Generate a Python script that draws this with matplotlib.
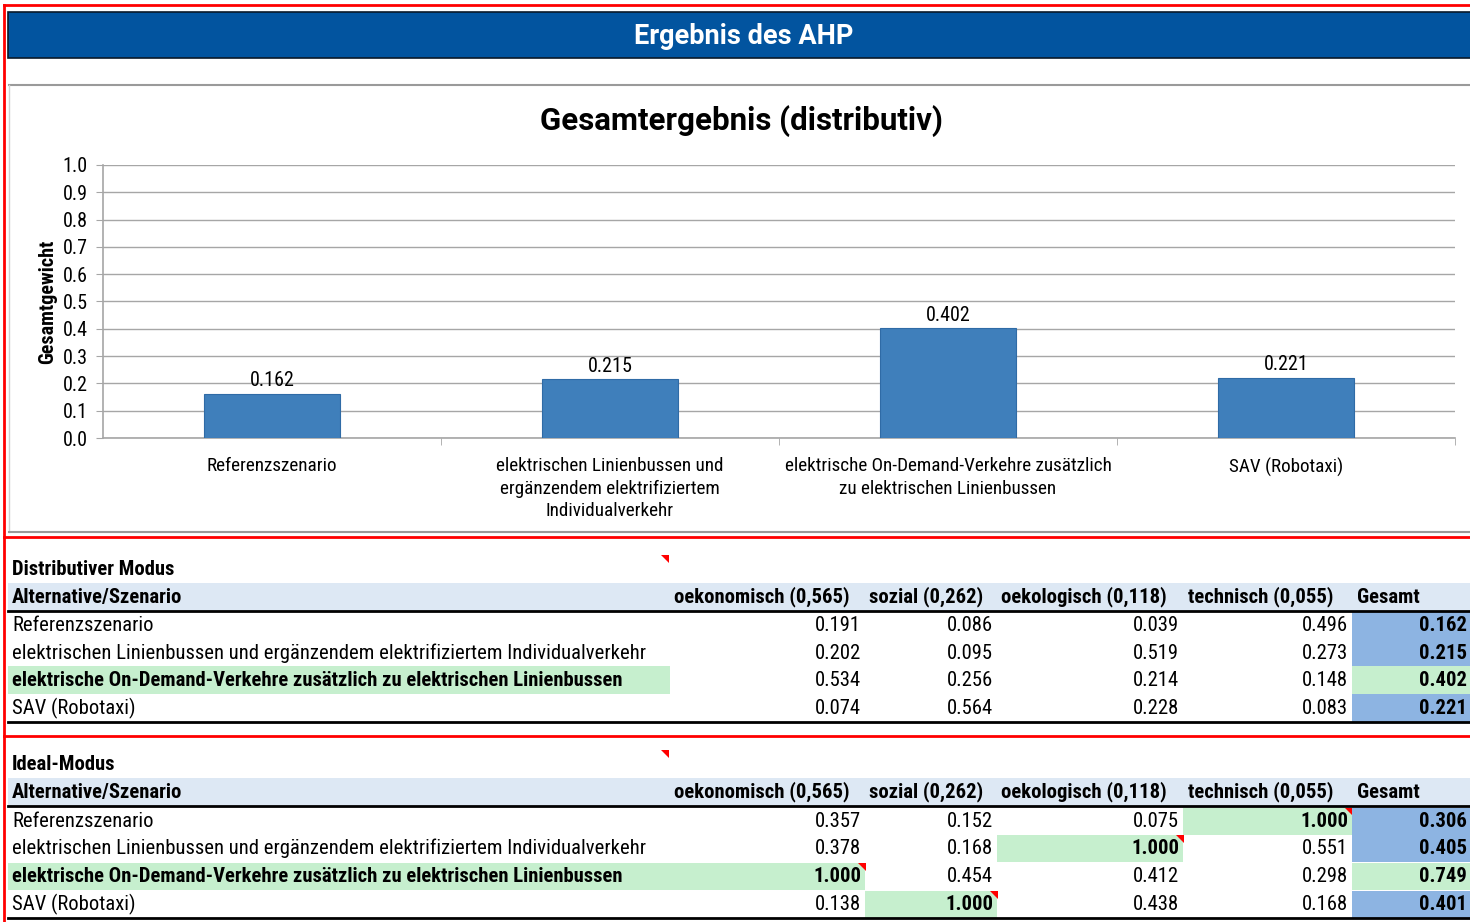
import matplotlib
matplotlib.use("Agg")
import matplotlib.pyplot as plt
from matplotlib.patches import Rectangle, Polygon
from matplotlib import font_manager

# narrow sans for the cells, normal width for titles
def first_font(names):
    for f in names:
        try:
            font_manager.findfont(f, fallback_to_default=False)
            return f
        except Exception:
            pass
    return "DejaVu Sans"

fam = first_font(["Liberation Sans Narrow", "Roboto Condensed", "Roboto"])
wide = first_font(["Roboto", "Liberation Sans"])
plt.rcParams['font.family'] = [fam, 'DejaVu Sans']

# ---- data ----
categories = ["Referenzszenario",
              "elektrischen Linienbussen und ergänzendem elektrifiziertem Individualverkehr",
              "elektrische On-Demand-Verkehre zusätzlich zu elektrischen Linienbussen",
              "SAV (Robotaxi)"]
cat_labels = ["Referenzszenario",
              "elektrischen Linienbussen und\nergänzendem elektrifiziertem\nIndividualverkehr",
              "elektrische On-Demand-Verkehre zusätzlich\nzu elektrischen Linienbussen",
              "SAV (Robotaxi)"]
criteria = ["oekonomisch (0,565)", "sozial (0,262)", "oekologisch (0,118)", "technisch (0,055)"]
gesamt_dist = [0.162, 0.215, 0.402, 0.221]
dist_vals = [[0.191, 0.086, 0.039, 0.496],
             [0.202, 0.095, 0.519, 0.273],
             [0.534, 0.256, 0.214, 0.148],
             [0.074, 0.564, 0.228, 0.083]]
ideal_vals = [[0.357, 0.152, 0.075, 1.000],
              [0.378, 0.168, 1.000, 0.551],
              [1.000, 0.454, 0.412, 0.298],
              [0.138, 1.000, 0.438, 0.168]]
gesamt_ideal = [0.306, 0.405, 0.749, 0.401]
yticks = [0.0, 0.1, 0.2, 0.3, 0.4, 0.5, 0.6, 0.7, 0.8, 0.9, 1.0]

W, H = 1470, 922
fig = plt.figure(figsize=(W / 100, H / 100), dpi=100)

# overlay in pixel coords
bg = fig.add_axes([0, 0, 1, 1])
bg.set_xlim(0, W)
bg.set_ylim(H, 0)
bg.axis("off")

RED = "#FF0000"
GREEN = "#C6EFCE"
BLUEC = "#8DB4E2"
HEAD = "#DDE8F4"
FS = 14.9   # table text
FC = 13.8   # chart text

# red frames
bg.plot([4, 4], [5, H], color=RED, lw=2)
for y in [5, 537, 736]:
    bg.plot([4, W], [y, y], color=RED, lw=2)

# title bar
bg.add_patch(Rectangle((8, 12), W, 46, facecolor="#02549F", edgecolor="#0A1A2A", lw=1.2))
bg.text(744, 36, "Ergebnis des AHP", color="white", fontsize=19.5, fontweight="bold",
        ha="center", va="center", family=wide)

# chart frame
bg.plot([9, W], [85, 85], color="#9A9A9A", lw=1.5)
bg.plot([9, 9], [85, 532], color="#D0D0D0", lw=1)
bg.plot([9, W], [532, 532], color="#9A9A9A", lw=1.5)
bg.text(742, 121, "Gesamtergebnis (distributiv)", fontsize=22.5, fontweight="bold",
        ha="center", va="center", family=wide)

# ---- chart ----
ax = fig.add_axes([103 / W, (H - 438) / H, (1455 - 103) / W, (438 - 165) / H])
ax.set_facecolor("none")
xs = list(range(len(categories)))
ax.bar(xs, gesamt_dist, width=0.4, color="#3F7FBB", edgecolor="#2F6BA6", lw=0.8, zorder=3)
for x, v in zip(xs, gesamt_dist):
    ax.text(x, v + 0.012, f"{v:.3f}", ha="center", va="bottom", fontsize=FC + 0.6)
ax.set_xlim(-0.5, 3.5)
ax.set_ylim(0, 1.0)
ax.set_yticks(yticks)
ax.set_yticklabels([f"{t:.1f}" for t in yticks], fontsize=FC + 0.6)
ax.grid(axis="y", color="#A6A6A6", lw=1)
ax.set_axisbelow(True)
for s in ["top", "right"]:
    ax.spines[s].set_visible(False)
for s in ["left", "bottom"]:
    ax.spines[s].set_color("#A6A6A6")
    ax.spines[s].set_linewidth(1.2)
ax.tick_params(axis="y", length=5, color="#A6A6A6", pad=6)
ax.set_xticks(xs)
ax.set_xticklabels(cat_labels, fontsize=FC, linespacing=1.3, va="top")
ax.tick_params(axis="x", length=0, pad=14)
ax.set_xticks([0.5, 1.5, 2.5, 3.5], minor=True)
ax.tick_params(axis="x", which="minor", length=5, color="#A6A6A6")
ax.set_ylabel("Gesamtgewicht", fontsize=14.5, fontweight="bold", labelpad=4)

# ---- tables ----
col_edges = [8, 670, 865, 997, 1183, 1352, W + 5]
num_right = [861, 993, 1179, 1348]
head_left = [674, 869, 1001, 1188]


def tri(x, y):
    bg.add_patch(Polygon([[x, y], [x + 8, y], [x + 8, y + 8]], closed=True, color=RED, lw=0))


def table(title, ytitle, yhead, rows_y, vals, gesamt, ideal):
    bg.text(12, ytitle, title, fontsize=FS, fontweight="bold", va="center")
    tri(661, ytitle - 14)
    bg.add_patch(Rectangle((8, yhead - 14), W, 28, facecolor=HEAD, lw=0))
    bg.text(12, yhead, "Alternative/Szenario", fontsize=FS, fontweight="bold", va="center")
    for c, hx in zip(criteria, head_left):
        bg.text(hx, yhead, c, fontsize=FS, fontweight="bold", va="center")
    bg.text(1357, yhead, "Gesamt", fontsize=FS, fontweight="bold", va="center")
    bg.plot([8, W], [yhead + 14, yhead + 14], color="black", lw=2)
    rh = rows_y[1] - rows_y[0]
    best = gesamt.index(max(gesamt))
    for i, (ry, name) in enumerate(zip(rows_y, categories)):
        top = ry - rh / 2
        bold = i == best
        if bold:
            bg.add_patch(Rectangle((8, top), 670 - 8, rh, facecolor=GREEN, lw=0))
        bg.text(12, ry, name, fontsize=FS, fontweight="bold" if bold else "normal", va="center")
        for j, v in enumerate(vals[i]):
            hi = ideal and v == max(r[j] for r in vals)
            if hi:
                bg.add_patch(Rectangle((col_edges[j + 1], top), col_edges[j + 2] - col_edges[j + 1], rh,
                                       facecolor=GREEN, lw=0))
                tri(col_edges[j + 2] - 7, top)
            bg.text(num_right[j], ry, f"{v:.3f}", fontsize=FS, ha="right", va="center",
                    fontweight="bold" if hi else "normal")
        bg.add_patch(Rectangle((1352, top), W, rh, facecolor=GREEN if bold else BLUEC, lw=0))
        bg.text(1467, ry, f"{gesamt[i]:.3f}", fontsize=FS, fontweight="bold", ha="right", va="center")
    bg.plot([8, W], [rows_y[-1] + rh / 2, rows_y[-1] + rh / 2], color="black", lw=2)


table("Distributiver Modus", 569, 597, [625, 653, 680, 708], dist_vals, gesamt_dist, False)
table("Ideal-Modus", 764, 792, [821, 848, 876, 904], ideal_vals, gesamt_ideal, True)

fig.savefig("out.png", dpi=100)
